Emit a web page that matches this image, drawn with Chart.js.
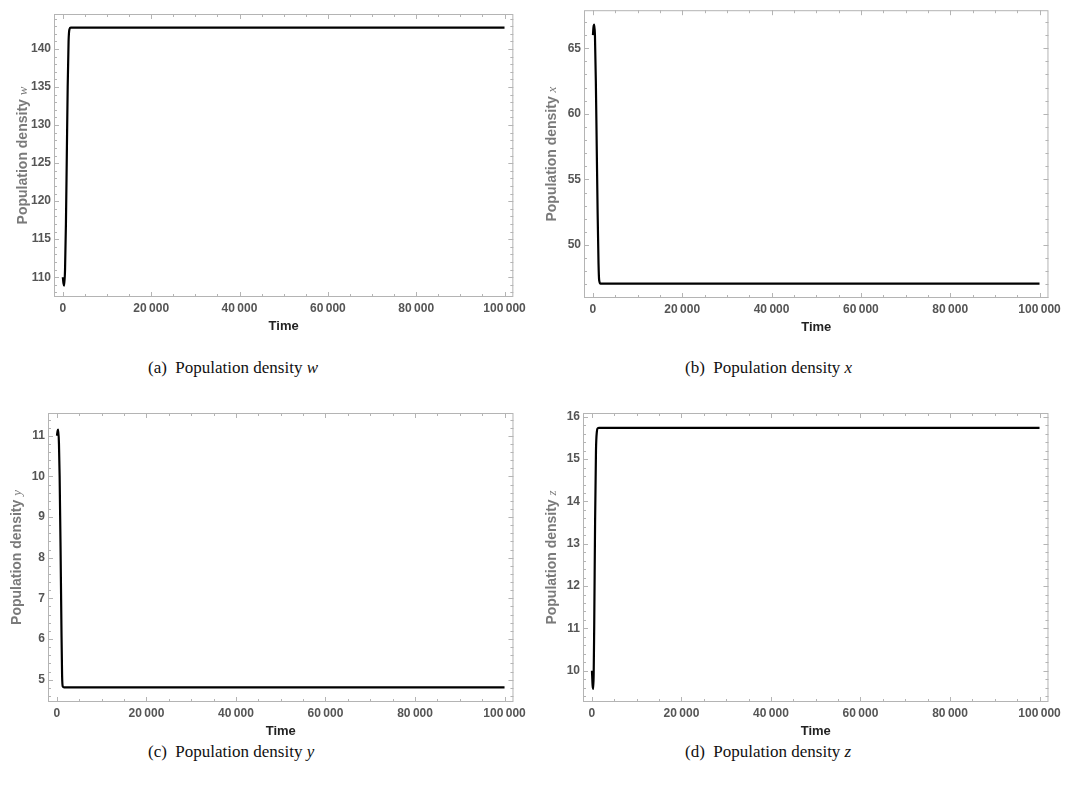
<!DOCTYPE html>
<html>
<head>
<meta charset="utf-8">
<script src="https://cdn.jsdelivr.net/npm/chart.js@4.4.1/dist/chart.umd.min.js"></script>
<style>
  html, body { margin:0; padding:0; background:#fff; }
  #wrap { position:relative; width:1065px; height:787px; overflow:hidden; background:#fff; }
  .pane { position:absolute; }
  .cap { position:absolute; font-family:"Liberation Serif","DejaVu Serif",serif; font-size:17px; color:#111; white-space:nowrap; }
  .cap i { font-style:italic; }
</style>
</head>
<body>
<div id="wrap">
  <div class="pane" style="left:0;top:0;width:530px;height:345px"><canvas id="ca"></canvas></div>
  <div class="pane" style="left:530px;top:0;width:535px;height:345px"><canvas id="cb"></canvas></div>
  <div class="pane" style="left:0;top:390px;width:530px;height:350px"><canvas id="cc"></canvas></div>
  <div class="pane" style="left:530px;top:390px;width:535px;height:350px"><canvas id="cd"></canvas></div>
  <div class="cap" style="left:148px;top:358px">(a)&nbsp; Population density <i>w</i></div>
  <div class="cap" style="left:685px;top:358px">(b)&nbsp; Population density <i>x</i></div>
  <div class="cap" style="left:148px;top:742px">(c)&nbsp; Population density <i>y</i></div>
  <div class="cap" style="left:685px;top:742px">(d)&nbsp; Population density <i>z</i></div>
</div>
<script>
// ---- data ----
const xTickValues = [0, 20000, 40000, 60000, 80000, 100000];

const timeW = [0, 150, 300, 500, 700, 900, 1100, 1300, 1500, 1800, 100000];
const popW  = [110, 109.2, 108.9, 111, 117, 126, 135, 141, 142.6, 142.8, 142.8];
const yTicksW = [110, 115, 120, 125, 130, 135, 140];

const timeX = [0, 120, 300, 450, 650, 850, 1050, 1250, 1400, 1700, 100000];
const popX  = [66, 66.6, 66.8, 66, 62.5, 57.5, 52.5, 48.6, 47.3, 47.05, 47.05];
const yTicksX = [50, 55, 60, 65];

const timeY = [0, 150, 300, 450, 600, 800, 1000, 1150, 1300, 1600, 100000];
const popY  = [11.0, 11.12, 11.15, 10.8, 10.0, 8.3, 6.3, 5.1, 4.83, 4.81, 4.81];
const yTicksY = [5, 6, 7, 8, 9, 10, 11];

const timeZ = [0, 150, 300, 500, 700, 900, 1100, 1300, 1600, 100000];
const popZ  = [10.0, 9.65, 9.57, 11.0, 13.5, 15.2, 15.65, 15.73, 15.74, 15.74];
const yTicksZ = [10, 11, 12, 13, 14, 15, 16];

// ---- helpers ----
function fmtX(v){
  if (v === 0) return '0';
  const s = String(v);
  return s.slice(0, s.length-3) + '\u2009' + s.slice(s.length-3);
}

const frameTicks = {
  id: 'frameTicks',
  afterDraw(chart, args, o) {
    const {ctx, chartArea: a, scales: {x, y}} = chart;
    ctx.save();
    ctx.strokeStyle = '#b4b4b4';
    ctx.lineWidth = 1;
    ctx.strokeRect(a.left + 0.5, a.top + 0.5, a.right - a.left - 1, a.bottom - a.top - 1);
    const seg = (x1, y1, x2, y2) => { ctx.beginPath(); ctx.moveTo(x1, y1); ctx.lineTo(x2, y2); ctx.stroke(); };
    const isMajor = (v, m) => Math.abs(v / m - Math.round(v / m)) < 1e-6;
    for (let k = Math.ceil(x.min / o.xMinor); k * o.xMinor <= x.max; k++) {
      const v = k * o.xMinor;
      const len = isMajor(v, o.xMajor) ? 5 : 3;
      const px = Math.round(x.getPixelForValue(v)) + 0.5;
      seg(px, a.bottom, px, a.bottom - len);
      seg(px, a.top, px, a.top + len);
    }
    for (let k = Math.ceil(y.min / o.yMinor - 1e-9); k * o.yMinor <= y.max + 1e-9; k++) {
      const v = k * o.yMinor;
      const len = isMajor(v, o.yMajor) ? 5 : 3;
      const py = Math.round(y.getPixelForValue(v)) + 0.5;
      seg(a.left, py, a.left + len, py);
      seg(a.right, py, a.right - len, py);
    }
    // x title
    ctx.fillStyle = '#222';
    ctx.font = 'bold 13px "Liberation Sans", Arial, sans-serif';
    ctx.textAlign = 'center';
    ctx.textBaseline = 'middle';
    ctx.fillText('Time', (a.left + a.right) / 2, a.bottom + 29);
    // y title (mixed fonts)
    const main = 'Population density ';
    const fMain = 'bold 14px "Liberation Sans", Arial, sans-serif';
    const fVar = 'italic 13px "Liberation Serif", "DejaVu Serif", serif';
    ctx.font = fMain; const w1 = ctx.measureText(main).width;
    ctx.font = fVar;  const w2 = ctx.measureText(o.varName).width;
    ctx.translate(a.left - o.titleOffset, (a.top + a.bottom) / 2);
    ctx.rotate(-Math.PI / 2);
    ctx.textAlign = 'left';
    ctx.textBaseline = 'middle';
    ctx.fillStyle = '#7a7a7a';
    ctx.font = fMain; ctx.fillText(main, -(w1 + w2) / 2, 0);
    ctx.font = fVar;  ctx.fillText(o.varName, -(w1 + w2) / 2 + w1, 1);
    ctx.restore();
  }
};

function makeChart(id, cfg) {
  const el = document.getElementById(id);
  const W = cfg.W, H = cfg.H;
  el.width = W; el.height = H;
  el.style.width = W + 'px'; el.style.height = H + 'px';
  const pts = cfg.t.map((t, i) => ({x: t, y: cfg.v[i]}));
  return new Chart(el, {
    type: 'line',
    data: { datasets: [{ data: pts, borderColor: '#000', borderWidth: 2.2, pointRadius: 0,
      cubicInterpolationMode: 'monotone', fill: false }] },
    options: {
      responsive: false, animation: false, devicePixelRatio: 1,
      layout: { padding: { left: 0, top: cfg.area.top, right: W - cfg.area.right, bottom: 0 } },
      plugins: { legend: { display: false }, tooltip: { enabled: false },
        frameTicks: { xMinor: 5000, xMajor: 20000, yMinor: cfg.yMinor, yMajor: cfg.yMajor,
          varName: cfg.varName, titleOffset: cfg.titleOffset } },
      scales: {
        x: {
          type: 'linear', min: -2000, max: 102000,
          grid: { display: false, drawTicks: false }, border: { display: false },
          afterBuildTicks: s => { s.ticks = xTickValues.map(v => ({ value: v })); },
          afterFit: s => { s.height = H - cfg.area.bottom; },
          ticks: { autoSkip: false, maxRotation: 0, padding: 4, color: '#555',
            font: { family: '"Liberation Sans", Arial, sans-serif', size: 12, weight: 'bold' },
            callback: v => fmtX(v) }
        },
        y: {
          type: 'linear', min: cfg.yMin, max: cfg.yMax,
          grid: { display: false, drawTicks: false }, border: { display: false },
          afterBuildTicks: s => { s.ticks = cfg.yTicks.map(v => ({ value: v })); },
          afterFit: s => { s.width = cfg.area.left; },
          ticks: { autoSkip: false, padding: 3, color: '#555',
            font: { family: '"Liberation Sans", Arial, sans-serif', size: 12, weight: 'bold' },
            callback: v => String(v) }
        }
      }
    },
    plugins: [frameTicks]
  });
}

makeChart('ca', { W: 530, H: 345, t: timeW, v: popW, yTicks: yTicksW, yMin: 107.4, yMax: 144.6,
  yMinor: 1, yMajor: 5, varName: 'w', titleOffset: 31,
  area: { left: 54, top: 14, right: 516, bottom: 297 } });
makeChart('cb', { W: 535, H: 345, t: timeX, v: popX, yTicks: yTicksX, yMin: 45.96, yMax: 67.9,
  yMinor: 1, yMajor: 5, varName: 'x', titleOffset: 32,
  area: { left: 54, top: 9, right: 522, bottom: 298 } });
makeChart('cc', { W: 530, H: 350, t: timeY, v: popY, yTicks: yTicksY, yMin: 4.45, yMax: 11.56,
  yMinor: 0.2, yMajor: 1, varName: 'y', titleOffset: 31,
  area: { left: 48, top: 23, right: 517, bottom: 312 } });
makeChart('cd', { W: 535, H: 350, t: timeZ, v: popZ, yTicks: yTicksZ, yMin: 9.26, yMax: 16.09,
  yMinor: 0.2, yMajor: 1, varName: 'z', titleOffset: 31,
  area: { left: 53, top: 23, right: 522, bottom: 312 } });
</script>
</body>
</html>
